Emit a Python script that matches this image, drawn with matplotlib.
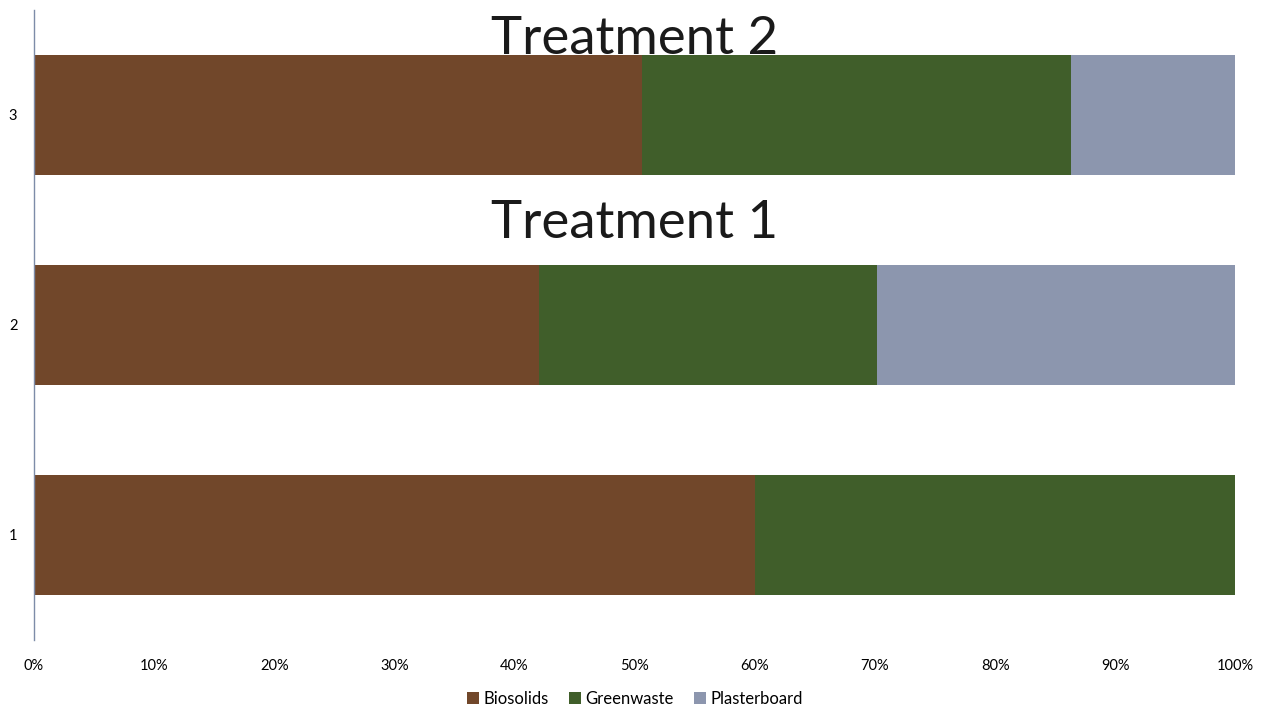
import matplotlib.pyplot as plt

# Mix composition of each pile, % of total
piles = [1, 2, 3]
biosolids = [60.0, 42.0, 50.6]
greenwaste = [40.0, 28.2, 35.7]
plasterboard = [0.0, 29.8, 13.7]

series_names = ['Biosolids', 'Greenwaste', 'Plasterboard']
xtick_vals = list(range(0, 101, 10))
xtick_labels = [f'{v}%' for v in xtick_vals]

colors = ['#71472a', '#405e2a', '#8c96ae']

plt.rcParams['font.family'] = ['Lato', 'DejaVu Sans']

fig = plt.figure(figsize=(12.7, 7.13), dpi=100)
ax = fig.add_axes([0.0268, 0.1024, 0.946, 0.884])

left = [0.0] * len(piles)
for name, vals, c in zip(series_names, [biosolids, greenwaste, plasterboard], colors):
    ax.barh(piles, vals, left=left, height=0.57, color=c, label=name)
    left = [l + v for l, v in zip(left, vals)]

ax.set_xlim(0, 100)
ax.set_ylim(0.5, 3.5)
ax.set_xticks(xtick_vals)
ax.set_xticklabels(xtick_labels)
ax.set_yticks(piles)
ax.set_yticklabels([str(p) for p in piles])
ax.tick_params(axis='both', length=0, labelsize=10.5)
ax.tick_params(axis='x', pad=14)
ax.tick_params(axis='y', pad=12)

for side in ['top', 'right', 'bottom']:
    ax.spines[side].set_visible(False)
ax.spines['left'].set_color('#7d8ca8')
ax.spines['left'].set_linewidth(1.0)

ax.text(50, 3.36, 'Treatment 2', ha='center', va='center', fontsize=38, color='#1a1a1a')
ax.text(50, 2.48, 'Treatment 1', ha='center', va='center', fontsize=38, color='#1a1a1a')

fig.legend(loc='lower center', bbox_to_anchor=(0.5, -0.012), ncol=3, frameon=False,
           fontsize=12, handlelength=0.7, handleheight=0.7, handletextpad=0.3,
           columnspacing=1.2)

fig.savefig('out.png', dpi=100)
